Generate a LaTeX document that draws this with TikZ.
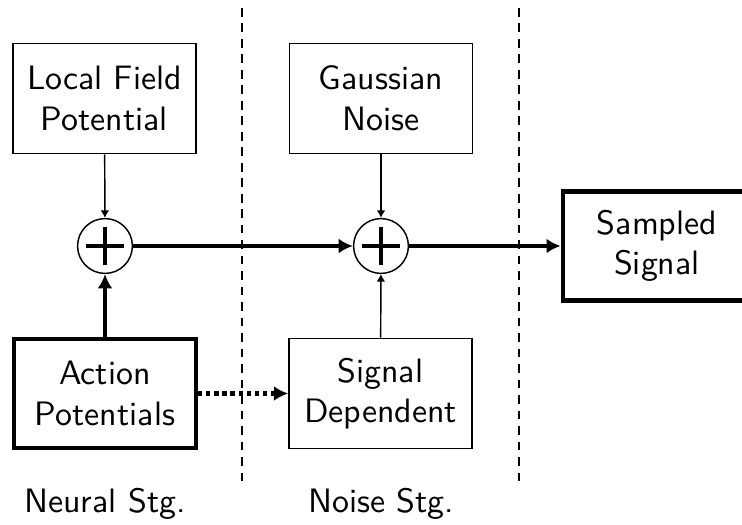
\documentclass[tikz,border=0pt]{standalone}
\usetikzlibrary{arrows.meta}
\begin{document}
\begin{tikzpicture}[x=0.31pt,y=-0.31pt,font=\sffamily\fontsize{10.5}{12.6}\selectfont,
  box/.style={draw, line width=0.45pt, minimum width=56.8pt, minimum height=34.2pt, inner sep=0pt, align=center},
  thickbox/.style={box, line width=1.4pt, minimum width=56.4pt, minimum height=33.8pt},
  sumnode/.style={draw, circle, minimum size=17pt, inner sep=0pt, line width=0.45pt,
    path picture={\draw[line width=1.4pt] ([xshift=-5.9pt]path picture bounding box.center) -- ([xshift=5.9pt]path picture bounding box.center);
                  \draw[line width=1.4pt] ([yshift=-5.9pt]path picture bounding box.center) -- ([yshift=5.9pt]path picture bounding box.center);}},
  thinarrow/.style={line width=0.45pt, -{Latex[length=2.3pt,width=2.7pt]}},
  thickarrow/.style={line width=1.3pt, -{Latex[length=4.4pt,width=4.6pt]}},
  dotarrow/.style={thickarrow, dash pattern=on 1.3pt off 1.2pt},
  divider/.style={line width=0.45pt, dash pattern=on 2.7pt off 2.1pt}]
\useasboundingbox (0,0) rectangle (742,525);
\clip (0,0) rectangle (742,525);

\node[box] (lfp) at (104.5,98.5) {Local Field\\Potential};
\node[box] (gauss) at (381,98.5) {Gaussian\\Noise};
\node[sumnode] (s1) at (105,246) {};
\node[sumnode] (s2) at (381,246) {};
\node[thickbox] (ap) at (105,393.5) {Action\\Potentials};
\node[box] (sd) at (380.5,393.5) {Signal\\Dependent};
\node[thickbox, minimum width=58.3pt] (out) at (657,246) {Sampled\\Signal};

\node[anchor=base] (l1) at (105,512) {Neural Stg.};
\node[anchor=base] (l2) at (381,512) {Noise Stg.};

\coordinate (d1t) at (242,8);
\coordinate (d1b) at (242,486);
\coordinate (d2t) at (519,8);
\coordinate (d2b) at (519,486);
\draw[divider] (d1t) -- (d1b);
\draw[divider] (d2t) -- (d2b);

\draw[thinarrow] (lfp) -- (s1);
\draw[thinarrow] (gauss) -- (s2);
\draw[thinarrow] (sd) -- (s2);
\draw[thickarrow] (ap) -- (s1);
\draw[thickarrow] (s1) -- (s2);
\draw[thickarrow] (s2) -- (out);
\draw[dotarrow] (ap) -- (sd);
\end{tikzpicture}
\end{document}
